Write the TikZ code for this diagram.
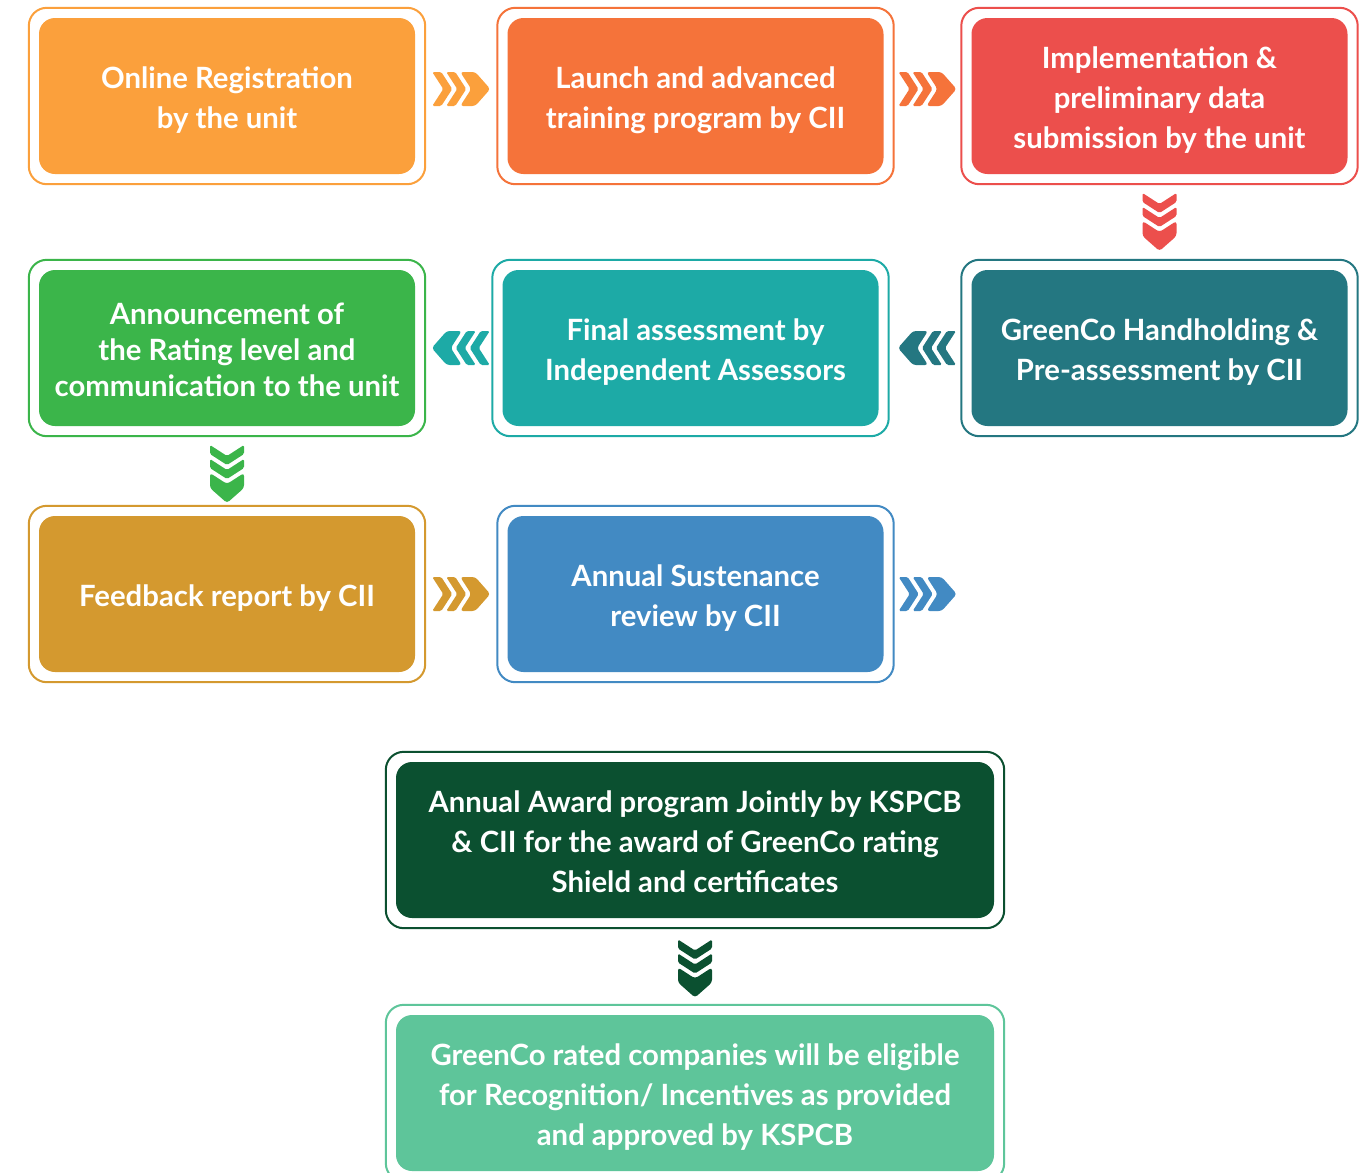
\documentclass[tikz,border=0pt]{standalone}
\usepackage{fontspec}
\setmainfont{Lato}
\usetikzlibrary{calc}
\definecolor{cOrange}{HTML}{FBA03C}
\definecolor{cDeepOrange}{HTML}{F5733A}
\definecolor{cRed}{HTML}{EC4F4C}
\definecolor{cGreen}{HTML}{3BB54A}
\definecolor{cTeal}{HTML}{1DAAA6}
\definecolor{cDarkTeal}{HTML}{247781}
\definecolor{cGold}{HTML}{D4992F}
\definecolor{cBlue}{HTML}{428AC3}
\definecolor{cForest}{HTML}{0B5030}
\definecolor{cMint}{HTML}{5EC59A}
\tikzset{
  stepbox/.style={fill=#1, rounded corners=16pt, minimum width=376pt, minimum height=156pt, inner sep=0pt},
  widebox/.style={stepbox=#1, minimum width=598pt},
  txt/.style={text=white, align=center, inner sep=0pt, yshift=-4pt, font=\fontsize{29.3}{40}\selectfont\bfseries},
  frameline/.style={draw=#1, line width=2pt, rounded corners=18pt},
  chev/.pic={
    \fill[rounded corners=1.5pt] (-29,-17) -- (-20,-17) -- (-9,0) -- (-20,17) -- (-29,17) -- (-18,0) -- cycle;
    \fill[rounded corners=1.5pt] (-15,-17) -- (-6,-17) -- (5,0) -- (-6,17) -- (-15,17) -- (-4,0) -- cycle;
    \fill[rounded corners=3pt] (-1,-17) -- (14,-17) -- (29,0) -- (14,17) -- (-1,17) -- (10,0) -- cycle;
  }
}
\newcommand\frameit[2]{\draw[frameline=#2] ([shift={(-10,-10)}]#1.north west) rectangle ([shift={(10,10)}]#1.south east);}
\begin{document}
\begin{tikzpicture}[x=1pt,y=-1pt]
\useasboundingbox (0,0) rectangle (1369,1173);
\clip (0,0) rectangle (1369,1173);
\fill[white] (0,0) rectangle (1369,1173);

\node[stepbox=cOrange, label={[txt]center:{Online Registration\\by the unit}}] (b1) at (227,96) {};
\node[stepbox=cDeepOrange, label={[txt]center:{Launch and advanced\\training program by CII}}] (b2) at (695.5,96) {};
\node[stepbox=cRed, label={[txt]center:{Implementation \&\\preliminary data\\submission by the unit}}] (b3) at (1159.5,96) {};
\node[stepbox=cGreen, label={[txt,yshift=2pt,font=\fontsize{29.3}{36}\selectfont\bfseries]center:{Announcement of\\the Rating level and\\communication to the unit}}] (b4) at (227,348) {};
\node[stepbox=cTeal, label={[txt,xshift=5pt]center:{Final assessment by\\Independent Assessors}}] (b5) at (690.5,348) {};
\node[stepbox=cDarkTeal, label={[txt]center:{GreenCo Handholding \&\\Pre-assessment by CII}}] (b6) at (1159.5,348) {};
\node[stepbox=cGold, label={[txt]center:{Feedback report by CII}}] (b7) at (227,594) {};
\node[stepbox=cBlue, label={[txt]center:{Annual Sustenance\\review by CII}}] (b8) at (695.5,594) {};
\node[widebox=cForest, label={[txt,yshift=2pt]center:{Annual Award program Jointly by KSPCB\\\& CII for the award of GreenCo rating\\Shield and certificates}}] (b9) at (695,840) {};
\node[widebox=cMint, label={[txt]center:{GreenCo rated companies will be eligible\\for Recognition/ Incentives as provided\\and approved by KSPCB}}] (b10) at (695,1093) {};

\frameit{b1}{cOrange}
\frameit{b2}{cDeepOrange}
\frameit{b3}{cRed}
\frameit{b4}{cGreen}
\frameit{b5}{cTeal}
\frameit{b6}{cDarkTeal}
\frameit{b7}{cGold}
\frameit{b8}{cBlue}
\frameit{b9}{cForest}
\frameit{b10}{cMint}

\coordinate (endblue) at ($(b8.east)+(88,0)$);

\pic[color=cOrange] at ($(b1.east)!0.5!(b2.west)+(0,-7)$) {chev};
\pic[color=cDeepOrange] at ($(b2.east)!0.5!(b3.west)+(0,-7)$) {chev};
\pic[color=cRed, rotate=-90] at ($(b3.south)!0.5!(b6.north)$) {chev};
\pic[color=cDarkTeal, rotate=180] at ($(b6.west)!0.5!(b5.east)+(2,0)$) {chev};
\pic[color=cTeal, rotate=180] at ($(b5.west)!0.5!(b4.east)+(2,0)$) {chev};
\pic[color=cGreen, rotate=-90] at ($(b4.south)!0.5!(b7.north)+(0,3)$) {chev};
\pic[color=cGold] at ($(b7.east)!0.5!(b8.west)$) {chev};
\pic[color=cBlue] at ($(b8.east)!0.5!(endblue)$) {chev};
\pic[color=cForest, rotate=-90] at ($(b9.south)!0.5!(b10.north)+(0,2)$) {chev};
\end{tikzpicture}
\end{document}
